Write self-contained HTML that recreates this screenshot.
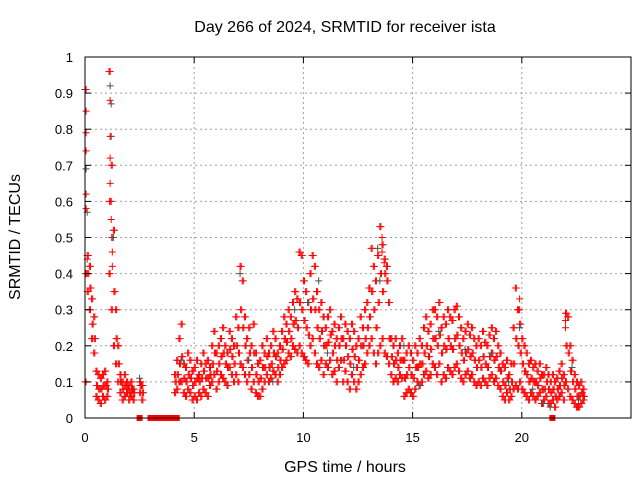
<!DOCTYPE html>
<html><head><meta charset="utf-8"><style>
body{margin:0;background:#fff}
svg{display:block;font-family:"Liberation Sans",sans-serif}
</style></head><body>
<svg id="chart" width="640" height="480" viewBox="0 0 640 480">
<rect width="640" height="480" fill="#fff"/>
<g id="grid"></g>
<g id="marks"></g>
<rect x="85" y="57" width="546" height="361" fill="none" stroke="#000" stroke-width="1"/>
<g id="axes"></g>
<text x="345" y="32" text-anchor="middle" font-size="16">Day 266 of 2024, SRMTID for receiver ista</text>
<text x="345" y="472" text-anchor="middle" font-size="16">GPS time / hours</text>
<text transform="translate(20,237) rotate(-90)" text-anchor="middle" font-size="16">SRMTID / TECUs</text>
</svg>
<script>
const xTicks=[0,5,10,15,20];
const yTicks=[0,0.1,0.2,0.3,0.4,0.5,0.6,0.7,0.8,0.9,1];
const yTickLabels=["0","0.1","0.2","0.3","0.4","0.5","0.6","0.7","0.8","0.9","1"];
const N=null;
const redHi=[.91,.45,.42,.33,.28,.13,.12,.11,.12,.13,
.10,.96,.70,.52,.30,.20,.12,.10,.12,.10,
.09,.10,.08,N,N,.10,.09,N,N,N,
N,N,N,N,N,N,N,N,N,N,
N,.12,.16,.22,.26,.15,.14,.18,.16,.13,
.14,.16,.12,.15,.18,.15,.16,.14,.20,.24,
.18,.20,.22,.25,.20,.18,.24,.22,.20,.28,
.25,.42,.38,.28,.22,.25,.20,.26,.18,.15,
.16,.20,.18,.22,.18,.20,.24,.22,.18,.20,
.24,.28,.26,.30,.28,.32,.35,.33,.46,.45,
.38,.35,.32,.40,.45,.42,.35,.30,.32,.28,
.25,.28,.30,.24,.26,.22,.25,.28,.22,.26,
.24,.22,.26,.24,.20,.22,.28,.25,.30,.32,
.36,.47,.42,.38,.45,.53,.48,.44,.42,.32,
.22,.20,.22,.18,.20,.22,.16,.18,.20,.18,
.16,.20,.18,.22,.20,.25,.28,.24,.26,.30,
.30,.28,.32,.25,.28,.26,.30,.28,.27,.30,
.31,.28,.25,.22,.24,.26,.23,.25,.22,.20,
.22,.20,.24,.21,.20,.23,.25,.22,.24,.20,
.18,.15,.14,.16,.12,.15,.25,.36,.30,.26,
.22,.20,.18,.15,.16,.14,.15,.13,.15,.12,
.12,.14,.12,.10,.12,.10,.11,.13,.15,.12,
.29,.28,.20,.16,.12,.10,.09,.10,.08,N];
const redMid=[.40,.40,.36,.26,.22,.09,.08,.08,.09,.09,
.08,.60,.50,.35,.22,.15,.10,.08,.09,.08,
.07,.08,.07,N,N,.09,.07,N,N,N,
N,N,N,N,N,N,N,N,N,N,
N,.10,.12,.15,.17,.11,.10,.12,.11,.09,
.10,.11,.10,.11,.13,.11,.11,.12,.15,.18,
.13,.15,.17,.18,.15,.14,.19,.17,.15,.20,
.18,.30,.25,.20,.16,.18,.14,.18,.12,.10,
.11,.14,.14,.17,.14,.15,.18,.17,.14,.16,
.19,.22,.21,.24,.22,.26,.27,.25,.32,.30,
.27,.25,.23,.30,.33,.30,.25,.22,.24,.20,
.20,.21,.23,.18,.20,.16,.20,.22,.16,.20,
.17,.15,.19,.17,.14,.16,.20,.20,.22,.25,
.28,.35,.30,.25,.32,.40,.35,.40,.38,.22,
.17,.15,.16,.14,.16,.16,.11,.12,.14,.12,
.11,.14,.14,.15,.15,.18,.20,.17,.19,.22,
.22,.20,.23,.18,.20,.19,.22,.20,.19,.22,
.23,.20,.18,.16,.18,.19,.17,.18,.16,.14,
.16,.14,.17,.15,.14,.17,.18,.16,.17,.14,
.13,.10,.09,.11,.08,.10,.15,.22,.20,.18,
.15,.13,.12,.10,.11,.10,.10,.09,.11,.08,
.08,.10,.08,.07,.08,.06,.08,.09,.11,.09,
.20,.18,.13,.10,.08,.06,.06,.07,.06,N];
const redLo=[.10,.35,.30,.22,.18,.06,.05,.04,.06,.05,
.06,.40,.30,.20,.15,.10,.07,.05,.06,.07,
.05,.06,.05,N,N,.07,.05,N,N,N,
N,N,N,N,N,N,N,N,N,N,
N,.07,.08,.10,.10,.07,.06,.08,.07,.05,
.06,.05,.07,.06,.08,.07,.06,.09,.10,.12,
.08,.10,.12,.11,.10,.09,.14,.12,.10,.12,
.10,.15,.14,.12,.10,.12,.08,.10,.07,.06,
.06,.08,.10,.12,.10,.11,.13,.12,.10,.12,
.14,.15,.16,.18,.17,.20,.19,.18,.20,.18,
.17,.16,.15,.20,.22,.18,.15,.14,.16,.12,
.15,.14,.16,.12,.13,.10,.14,.16,.10,.13,
.10,.08,.12,.10,.08,.10,.12,.14,.15,.18,
.20,.22,.18,.15,.18,.20,.22,.18,.17,.15,
.12,.10,.11,.10,.12,.11,.06,.07,.08,.07,
.06,.08,.10,.09,.10,.12,.13,.11,.12,.15,
.14,.12,.15,.10,.12,.11,.14,.13,.12,.14,
.15,.13,.11,.10,.12,.13,.11,.12,.10,.09,
.10,.09,.11,.10,.09,.11,.12,.10,.11,.09,
.08,.06,.05,.07,.05,.06,.08,.09,.08,.10,
.08,.07,.06,.05,.07,.06,.05,.06,.07,.04,
.05,.06,.04,.04,.05,.03,.05,.06,.07,.05,
.10,.08,.06,.05,.04,.03,.03,.04,.05,N];
const spikeT=[0.05,0.05,0.05,0.05,0.05,0.1,1.15,1.15,1.15,1.15,1.2,1.2,1.25,1.25,13.6,13.6,13.7,19.9,19.9,22.0,22.0];
const spikeV=[0.85,0.79,0.74,0.62,0.58,0.44,0.88,0.78,0.72,0.65,0.60,0.55,0.46,0.42,0.50,0.46,0.43,0.33,0.30,0.27,0.25];
const grayT=[0.05,0.1,1.15,1.2,1.2,1.3,2.5,4.4,7.1,7.5,8.6,9.6,10.2,10.7,11.1,12.3,13.4,13.5,14.6,15.3,16.2,17.4,18.6,19.4,19.9,20.5,21.0,21.3,22.3,22.6];
const grayV=[0.69,0.57,0.92,0.87,0.78,0.50,0.11,0.16,0.40,0.16,0.10,0.30,0.32,0.38,0.18,0.14,0.47,0.38,0.20,0.09,0.24,0.19,0.18,0.10,0.25,0.08,0.04,0.03,0.14,0.05];
const squareT=[2.5,3.0,3.1,3.2,3.3,3.4,3.5,3.6,3.7,3.8,3.9,4.0,4.1,4.2,21.4];
const sx=t=>85+t*(546/25);
const sy=v=>418-v*361;
const NS="http://www.w3.org/2000/svg";
const grid=document.getElementById('grid'),axes=document.getElementById('axes'),marks=document.getElementById('marks');
function mk(tag,at,parent){const e=document.createElementNS(NS,tag);for(const k in at)e.setAttribute(k,at[k]);parent.appendChild(e);return e;}
yTicks.forEach((v,i)=>{
  const y=sy(v);
  if(i>0&&i<yTicks.length-1){const g=mk('line',{x1:85,x2:631,y1:y,y2:y,stroke:'#a0a0a0','stroke-dasharray':'2,3'},grid);
  
  }
  mk('line',{x1:85,x2:91,y1:y,y2:y,stroke:'#000'},axes);
  mk('line',{x1:625,x2:631,y1:y,y2:y,stroke:'#000'},axes);
  const t=mk('text',{x:73,y:y+5,'text-anchor':'end','font-size':13},axes);t.textContent=yTickLabels[i];
  
  
});
xTicks.forEach(v=>{
  const x=sx(v);
  if(v>0){const g=mk('line',{x1:x,x2:x,y1:57,y2:418,stroke:'#a0a0a0','stroke-dasharray':'2,3'},grid);
  
  }
  mk('line',{x1:x,x2:x,y1:418,y2:412,stroke:'#000'},axes);
  mk('line',{x1:x,x2:x,y1:57,y2:63,stroke:'#000'},axes);
  const t=mk('text',{x:x,y:442,'text-anchor':'middle','font-size':13},axes);t.textContent=String(v);
  
  
});
function plus(t,v,color,name){
  const x=sx(t),y=sy(v);
  const p=mk('path',{d:`M${x-3.5},${y}h7M${x},${y-3.5}v7`,stroke:color,'stroke-width':1,fill:'none'},marks);
  
  
}
[[redLo,0],[redLo,0.05],[redMid,0.025],[redMid,0.075],[redHi,0],[redHi,0.05]].forEach(([arr,off])=>arr.forEach((v,i)=>{if(v!==null)plus(i*0.1+off,v,'#ff0000','red-point');}));
grayT.forEach((t,i)=>plus(t,grayV[i],'#505050','gray-point'));
spikeT.forEach((t,i)=>plus(t,spikeV[i],'#ff0000','red-point'));
squareT.forEach(t=>{const r=mk('rect',{x:sx(t)-3,y:415,width:6,height:6,fill:'#ff0000'},marks);
  
  });
</script>
</body></html>
